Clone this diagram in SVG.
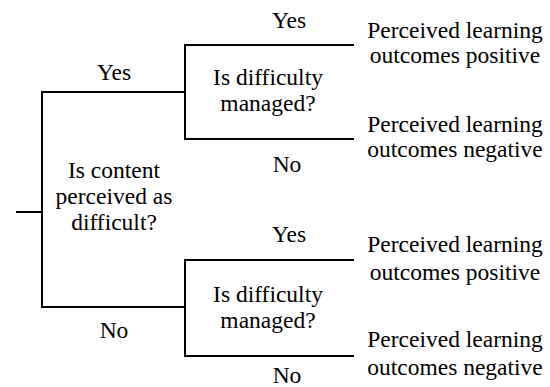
<svg xmlns="http://www.w3.org/2000/svg" width="550" height="387" viewBox="0 0 550 387">
<style>
.ln{stroke:#000;stroke-width:2;fill:none;stroke-linecap:square}
text{font-family:"Liberation Serif","DejaVu Serif",serif;font-size:23.5px;fill:#000;text-anchor:middle}
</style>
<rect width="550" height="387" fill="#fff"/>
<g id="connectors">
<path class="ln" d="M17,212 H42"/>
<path class="ln" d="M42,92 V307"/>
<path class="ln" d="M42,92 H185"/>
<path class="ln" d="M42,307 H185"/>
<path class="ln" d="M185,45 V139"/>
<path class="ln" d="M185,45 H353"/>
<path class="ln" d="M185,139 H353"/>
<path class="ln" d="M185,260 V356"/>
<path class="ln" d="M185,260 H353"/>
<path class="ln" d="M185,356 H353"/>
</g>
<g id="labels">
<text x="114" y="80">Yes</text>
<text x="114" y="338">No</text>
<text x="289" y="28">Yes</text>
<text x="287" y="172">No</text>
<text x="289" y="242">Yes</text>
<text x="287" y="383">No</text>
</g>
<g id="q1">
<text x="114" y="178">Is content</text>
<text x="114" y="204">perceived as</text>
<text x="114" y="230">difficult?</text>
</g>
<g id="q2a">
<text x="268" y="85">Is difficulty</text>
<text x="268" y="111">managed?</text>
</g>
<g id="q2b">
<text x="268" y="302">Is difficulty</text>
<text x="268" y="328">managed?</text>
</g>
<g id="out1">
<text x="455" y="38">Perceived learning</text>
<text x="455" y="63">outcomes positive</text>
</g>
<g id="out2">
<text x="455" y="132">Perceived learning</text>
<text x="455" y="157">outcomes negative</text>
</g>
<g id="out3">
<text x="455" y="252">Perceived learning</text>
<text x="455" y="280">outcomes positive</text>
</g>
<g id="out4">
<text x="455" y="347">Perceived learning</text>
<text x="455" y="375">outcomes negative</text>
</g>
</svg>
